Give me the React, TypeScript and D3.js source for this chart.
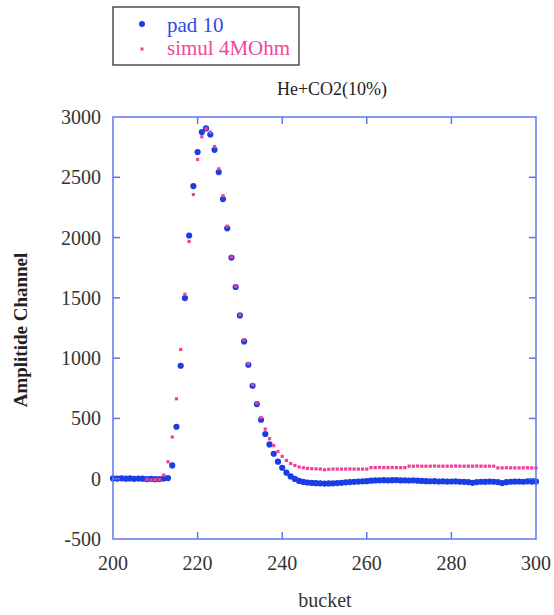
import React from "react";
import * as d3 from "d3";

// pad 10 (measured), buckets 200..300
const padBuckets: number[] = d3.range(200, 301);
const padValues: number[] = [
  2, 1, 3, 0, 2, -1, 1, 0, -3, -2,
  -4, -3, 2, 5, 110, 431, 937, 1498, 2017, 2427,
  2709, 2875, 2905, 2855, 2728, 2543, 2319, 2077, 1834, 1590,
  1354, 1139, 945, 771, 619, 489, 371, 284, 207, 141,
  91, 50, 19, -2, -18, -27, -32, -35, -37, -38,
  -40, -39, -38, -36, -34, -30, -28, -26, -24, -22,
  -20, -16, -14, -13, -12, -13, -12, -11, -14, -13,
  -15, -13, -16, -18, -20, -21, -20, -23, -22, -24,
  -23, -22, -25, -26, -28, -34, -28, -25, -26, -24,
  -25, -28, -36, -29, -25, -24, -23, -25, -22, -24,
  -24,
];

// simul 4MOhm, buckets 208..300
const simBuckets: number[] = d3.range(208, 301);
const simValues: number[] = [
  -5, -10, -8, -6, 30, 140, 346, 663, 1072, 1531,
  1968, 2357, 2648, 2836, 2902, 2875, 2755, 2570, 2347, 2095,
  1840, 1595, 1360, 1152, 955, 780, 628, 508, 412, 332,
  274, 226, 185, 152, 126, 110, 97, 91, 86, 83,
  82, 80, 74, 78, 80, 80, 80, 80, 81, 80,
  80, 80, 80, 92, 92, 93, 92, 92, 93, 92,
  92, 92, 104, 104, 105, 104, 104, 104, 105, 104,
  104, 104, 104, 105, 104, 104, 104, 104, 105, 104,
  104, 104, 104, 90, 90, 91, 90, 90, 90, 90,
  91, 90, 90,
];

const xTicks: number[] = [200, 220, 240, 260, 280, 300];
const yTicks: number[] = [-500, 0, 500, 1000, 1500, 2000, 2500, 3000];
const legendLabels: string[] = ["pad 10", "simul 4MOhm"];

const W = 554;
const H = 615;
const L = 113, R = 536, T = 117, B = 539;
const frameColor = "#5b78ee";
const blue = "#1a3ee6";
const pink = "#f0409a";
const font = "'Liberation Serif', 'Times New Roman', serif";

export default function App() {
  const x = d3.scaleLinear().domain([200, 300]).range([L, R]);
  const y = d3.scaleLinear().domain([-500, 3000]).range([B, T]);
  const tl = 7;

  const pad = padBuckets.map((b, i) => ({ b, v: padValues[i] }));
  const sim = simBuckets.map((b, i) => ({ b, v: simValues[i] }));

  return (
    <svg
      width={W}
      height={H}
      style={{ position: "absolute", left: 0, top: 0, background: "#fff" }}
      fontFamily={font}
    >
      <rect x={0} y={0} width={W} height={H} fill="#fff" />
      {/* legend */}
      <rect x={113} y={7} width={186} height={58} fill="#fff" stroke="#333" strokeWidth={1.3} />
      <circle cx={142} cy={24} r={3} fill={blue} />
      <rect x={140.5} y={47.5} width={3} height={3} fill={pink} />
      <text x={167} y={32} fontSize={21} fill="#2f4ae8">{legendLabels[0]}</text>
      <text x={167} y={55} fontSize={21} fill="#f0479b">{legendLabels[1]}</text>

      {/* title */}
      <text x={332} y={95} fontSize={18} textAnchor="middle" fill="#222">He+CO2(10%)</text>

      {/* data: pad 10 */}
      {pad.map((d) => (
        <circle key={"p" + d.b} cx={x(d.b)} cy={y(d.v)} r={3.1} fill={blue} />
      ))}
      {/* data: simul */}
      {sim.map((d) => (
        <rect key={"s" + d.b} x={x(d.b) - 1.6} y={y(d.v) - 1.6} width={3.2} height={3.2} fill={pink} />
      ))}

      {/* frame */}
      <rect x={L} y={T} width={R - L} height={B - T} fill="none" stroke={frameColor} strokeWidth={1.5} />
      {xTicks.slice(1, -1).map((t) => (
        <g key={"xt" + t}>
          <line x1={x(t)} x2={x(t)} y1={B} y2={B - tl} stroke={frameColor} strokeWidth={1.5} />
          <line x1={x(t)} x2={x(t)} y1={T} y2={T + tl} stroke={frameColor} strokeWidth={1.5} />
        </g>
      ))}
      {yTicks.slice(1, -1).map((t) => (
        <g key={"yt" + t}>
          <line x1={L} x2={L + tl} y1={y(t)} y2={y(t)} stroke={frameColor} strokeWidth={1.5} />
          <line x1={R} x2={R - tl} y1={y(t)} y2={y(t)} stroke={frameColor} strokeWidth={1.5} />
        </g>
      ))}

      {/* tick labels */}
      {xTicks.map((t) => (
        <text key={"xl" + t} x={x(t)} y={570} fontSize={20} textAnchor="middle" fill="#333">{t}</text>
      ))}
      {yTicks.map((t) => (
        <text key={"yl" + t} x={101} y={y(t) + 7} fontSize={20} textAnchor="end" fill="#333">{t}</text>
      ))}

      {/* axis titles */}
      <text x={325} y={607} fontSize={20} textAnchor="middle" fill="#333">bucket</text>
      <text
        transform={`translate(27,330) rotate(-90)`}
        fontSize={19}
        fontWeight="bold"
        textAnchor="middle"
        fill="#222"
      >
        Amplitide Channel
      </text>
    </svg>
  );
}
